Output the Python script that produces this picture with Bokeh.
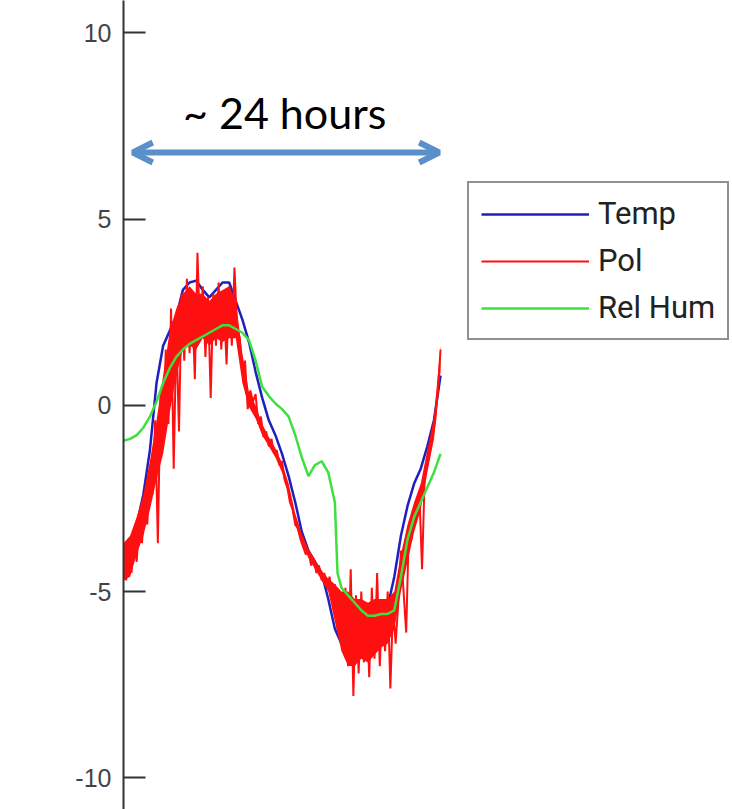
from bokeh.plotting import figure
from bokeh.models import Range1d, FixedTicker, Legend, LegendItem, Label, Arrow, OpenHead
from bokeh.embed import file_html
from bokeh.resources import INLINE

# ---------------- data (hours since start, values) ----------------
temp_hours = [0, 0.5, 1.0, 1.5, 2.0, 2.5, 3.0, 3.5, 4.0, 4.5, 5.0, 5.5, 6.0, 6.5, 7.0, 7.5,
              8.0, 8.5, 9.0, 9.5, 10.0, 10.5, 11.0, 11.5, 12.0, 12.5, 13.0, 13.5, 14.0, 14.5,
              15.0, 15.5, 16.0, 16.5, 17.0, 17.5, 18.0, 18.5, 19.0, 19.5, 20.0, 20.5, 21.0,
              21.5, 22.0, 22.5, 23.0, 23.5, 24.0]
temp_vals = [-4.4, -3.8, -3.2, -2.4, -1.2, 0.6, 1.6, 2.0, 2.4, 3.1, 3.3, 3.35, 3.1, 2.9, 3.1, 3.3,
             3.3, 2.8, 2.3, 1.7, 0.9, 0.2, -0.4, -0.8, -1.3, -1.9, -2.6, -3.4, -3.9, -4.2,
             -4.5, -5.2, -6.0, -6.4, -6.5, -6.3, -6.2, -6.0, -5.9, -5.7, -5.4, -4.6, -3.5,
             -2.7, -2.1, -1.7, -1.1, -0.4, 0.8]

hum_hours = [0, 0.5, 1.0, 1.5, 2.0, 2.5, 3.0, 3.5, 4.0, 4.5, 5.0, 5.5, 6.0, 6.5, 7.0, 7.5,
             8.0, 8.5, 9.0, 9.5, 10.0, 10.5, 11.0, 11.5, 12.0, 12.5, 13.0, 13.5, 14.0, 14.5,
             15.0, 15.5, 16.0, 16.2, 16.5, 17.0, 17.5, 18.0, 18.5, 19.0, 19.5, 20.0, 20.5,
             21.0, 21.5, 22.0, 22.5, 23.0, 23.5, 24.0]
hum_vals = [-0.95, -0.9, -0.8, -0.6, -0.3, 0.1, 0.6, 1.0, 1.3, 1.5, 1.65, 1.75, 1.85, 1.95, 2.05, 2.15,
            2.15, 2.05, 1.95, 1.75, 1.2, 0.5, 0.25, 0.05, -0.1, -0.3, -0.8, -1.4, -1.9, -1.6,
            -1.5, -1.8, -2.6, -4.5, -4.9, -5.1, -5.3, -5.5, -5.65, -5.65, -5.6, -5.6, -5.5,
            -4.6, -3.6, -3.0, -2.6, -2.2, -1.8, -1.3]

# Pol: dense noisy core (band) plus individual spikes
pol_band_hours = [0, 0.5, 1.0, 1.5, 2.0, 2.5, 3.0, 3.5, 4.0, 4.5, 5.0, 5.5, 6.0, 6.5, 7.0, 7.5,
                  8.0, 8.5, 9.0, 9.5, 10.0, 10.5, 11.0, 11.5, 12.0, 12.5, 13.0, 13.5, 14.0, 14.5,
                  15.0, 15.5, 16.0, 16.5, 17.0, 17.5, 18.0, 18.5, 19.0, 19.5, 20.0, 20.5, 21.0,
                  21.5, 22.0, 22.5, 23.0, 23.5, 24.0]
pol_band_lo = [-4.7, -4.6, -4.0, -3.5, -2.8, -2.0, -1.3, -0.2, 0.8, 1.5, 1.6, 1.5, 1.8, 1.6, 1.8, 1.7,
               1.8, 1.8, 0.6, -0.05, -0.35, -0.8, -1.1, -1.4, -1.8, -2.4, -3.2, -3.7, -4.1, -4.4,
               -4.7, -5.0, -5.8, -6.6, -7.0, -7.0, -6.8, -6.9, -6.7, -6.5, -6.4, -6.0, -5.0,
               -4.2, -3.4, -2.8, -1.8, -0.9, 0.9]
pol_band_hi = [-3.7, -3.5, -3.0, -2.4, -1.5, -0.4, 0.8, 2.0, 2.6, 3.0, 3.2, 3.0, 3.0, 2.8, 3.0, 3.1,
               3.2, 2.8, 1.4, 0.35, 0.0, -0.5, -0.85, -1.15, -1.55, -2.1, -2.9, -3.45, -3.85, -4.15,
               -4.45, -4.65, -4.8, -5.0, -5.0, -5.2, -5.2, -5.3, -5.2, -5.2, -5.2, -5.0, -4.0,
               -3.2, -2.6, -2.1, -1.2, -0.3, 1.6]

pol_hours = [round(i * 0.2, 1) for i in range(121)]
pol_vals = [-4.0, -4.7, -3.8, -4.5, -3.6, -4.2, -3.0, -3.7, -2.6, -3.2,
            -1.6, -2.4, -0.4, -3.7, 0.3, -1.0, 1.5, -0.5, 2.6, -1.7,
            2.0, -0.7, 3.0, 1.2, 3.4, 1.4, 2.8, 0.7, 4.1, 1.8,
            3.2, 1.3, 2.9, 0.2, 3.0, 1.6, 3.3, 1.5, 2.8, 1.1,
            3.2, 1.6, 3.7, 2.1, 1.8, 0.85, 1.2, -0.1, 0.4, 0.1,
            0.3, -0.5, -0.3, -0.85, -0.7, -1.1, -0.9, -1.3, -1.2, -1.6,
            -1.5, -2.0, -2.2, -2.6, -2.8, -3.2, -3.3, -3.6, -3.8, -4.0,
            -3.9, -4.3, -4.1, -4.5, -4.3, -4.7, -4.5, -4.9, -4.6, -5.2,
            -4.8, -6.0, -5.0, -6.6, -4.9, -7.0, -4.4, -7.8, -5.1, -7.2,
            -5.0, -6.9, -5.3, -7.3, -4.9, -6.8, -4.5, -7.0, -5.2, -6.6,
            -5.0, -7.6, -5.4, -6.4, -5.3, -3.9, -5.0, -6.1, -3.3, -3.6,
            -2.9, -3.0, -2.4, -4.4, -1.9, -1.6, -1.2, -0.9, -0.4, 0.4,
            1.5]

y_ticks = [-10, -5, 0, 5, 10]
y_tick_labels = {-10: "-10", -5: "-5", 0: "0", 5: "5", 10: "10"}
series_names = ["Temp", "Pol", "Rel Hum"]

# annotation: "~ 24 hours" span
span_start_h = 0.7
span_end_h = 23.9
span_level = 6.79
span_text = "~ 24 hours"
span_text_h = 12.2
span_text_level = 7.85

# ---------------- figure ----------------
p = figure(width=732, height=809, output_backend="svg", toolbar_location=None,
           x_range=Range1d(0, 46.1), y_range=Range1d(-10.85, 10.87),
           x_axis_location=None, min_border_left=123, min_border_top=0,
           min_border_bottom=0, min_border_right=0)
p.outline_line_color = None
p.grid.visible = False
p.background_fill_color = "white"
p.border_fill_color = "white"

ax = p.yaxis[0]
ax.ticker = FixedTicker(ticks=y_ticks)
ax.major_label_overrides = y_tick_labels
ax.minor_tick_line_color = None
ax.axis_line_color = "#333333"
ax.axis_line_width = 2
ax.major_tick_line_color = "#333333"
ax.major_tick_line_width = 2
ax.major_tick_in = 22
ax.major_tick_out = 0
ax.major_label_standoff = 12
ax.major_label_text_font = "Liberation Sans"
ax.major_label_text_font_size = "25px"
ax.major_label_text_color = "#444444"

r_temp = p.line(temp_hours, temp_vals, line_color="#1f1fc0", line_width=2.5)
p.varea(x=pol_band_hours, y1=pol_band_lo, y2=pol_band_hi, fill_color="#ff1010")
r_pol = p.line(pol_hours, pol_vals, line_color="#ff1010", line_width=2)
r_hum = p.line(hum_hours, hum_vals, line_color="#3ee03e", line_width=2.5)

legend = Legend(items=[LegendItem(label=series_names[0], renderers=[r_temp]),
                       LegendItem(label=series_names[1], renderers=[r_pol]),
                       LegendItem(label=series_names[2], renderers=[r_hum])],
                location=(344, 469), margin=0, padding=12, spacing=10,
                glyph_width=108, glyph_height=20, label_height=20, label_standoff=9,
                label_text_font="Roboto", label_text_font_size="31px",
                label_text_color="#222222", border_line_color="#222222",
                border_line_width=2, background_fill_color="white",
                background_fill_alpha=1.0)
p.add_layout(legend)

p.add_layout(Arrow(start=OpenHead(size=20, line_color="#5b8fca", line_width=6),
                   end=OpenHead(size=20, line_color="#5b8fca", line_width=6),
                   x_start=span_start_h, x_end=span_end_h, y_start=span_level, y_end=span_level,
                   line_color="#5b8fca", line_width=6))
p.add_layout(Label(x=span_text_h, y=span_text_level, text=span_text, text_align="center",
                   text_baseline="alphabetic", text_font="Lato", text_font_size="43px",
                   text_color="black"))

open("out.html", "w").write(file_html(p, INLINE))
